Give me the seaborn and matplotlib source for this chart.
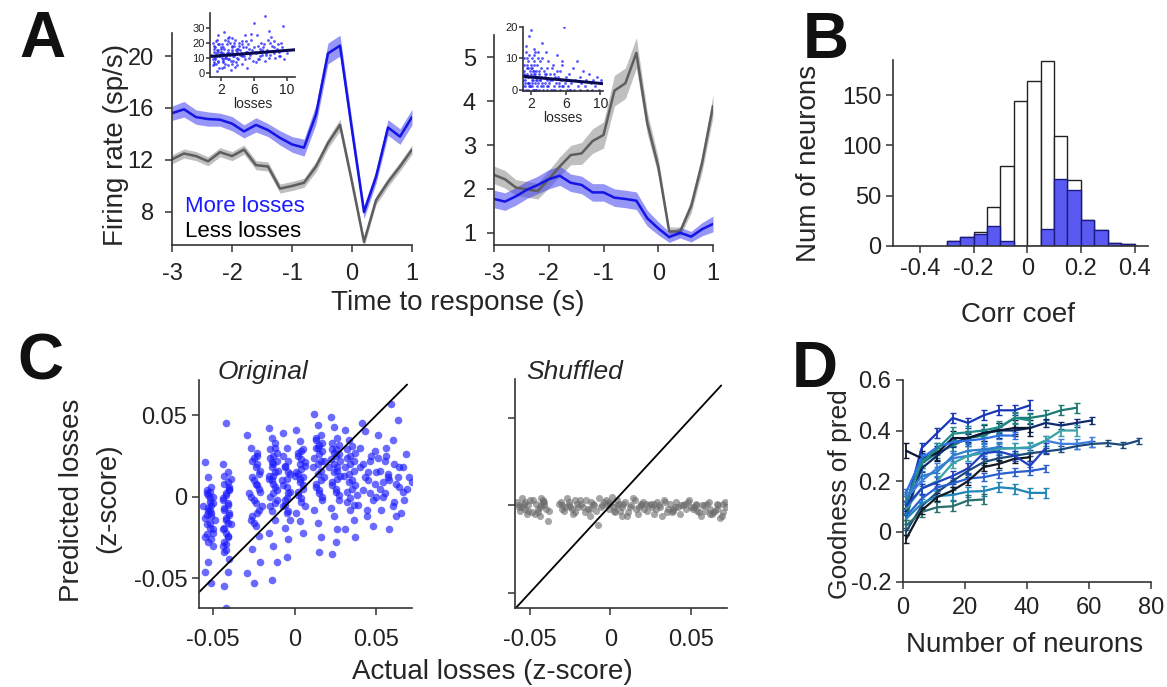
import numpy as np
import pandas as pd
import matplotlib
matplotlib.use("Agg")
import matplotlib.pyplot as plt
import seaborn as sns

# ---------------- A: firing rate aligned to response ----------------
time_s = [-3.0, -2.8, -2.6, -2.4, -2.2, -2.0, -1.8, -1.6, -1.4, -1.2, -1.0,
          -0.8, -0.6, -0.4, -0.2, 0.0, 0.2, 0.4, 0.6, 0.8, 1.0]

left_more = [15.6, 15.9, 15.3, 15.15, 15.1, 14.8, 14.2, 14.7, 14.3, 13.7, 13.2,
             12.95, 15.5, 20.2, 20.8, 14.3, 8.0, 10.7, 14.5, 13.8, 15.3]
left_more_sem = [0.55, 0.6, 0.55, 0.55, 0.5, 0.55, 0.5, 0.55, 0.5, 0.55, 0.6,
                 0.65, 0.75, 0.8, 0.8, 0.7, 0.5, 0.5, 0.6, 0.6, 0.6]
left_less = [12.05, 12.5, 12.3, 11.9, 12.6, 12.3, 12.8, 11.6, 11.5, 9.8, 10.0,
             10.25, 11.5, 13.3, 14.7, 10.3, 5.7, 8.9, 10.3, 11.5, 12.8]
left_less_sem = [0.35, 0.35, 0.35, 0.35, 0.35, 0.35, 0.35, 0.35, 0.35, 0.35, 0.35,
                 0.35, 0.4, 0.4, 0.45, 0.4, 0.35, 0.35, 0.35, 0.35, 0.35]

right_more = [1.77, 1.71, 1.83, 1.98, 2.09, 2.22, 2.30, 2.14, 2.09, 1.92, 1.92,
              1.80, 1.77, 1.73, 1.33, 1.10, 0.90, 1.00, 0.91, 1.08, 1.20]
right_more_sem = [0.2, 0.2, 0.2, 0.2, 0.2, 0.22, 0.22, 0.2, 0.2, 0.2, 0.2,
                  0.2, 0.2, 0.2, 0.18, 0.15, 0.12, 0.12, 0.12, 0.15, 0.18]
right_less = [2.32, 2.22, 2.03, 1.99, 1.95, 2.22, 2.51, 2.77, 2.81, 3.09, 3.23,
              4.24, 4.41, 5.10, 3.50, 2.51, 1.03, 1.03, 1.60, 2.59, 3.89]
right_less_sem = [0.2, 0.2, 0.18, 0.18, 0.18, 0.2, 0.22, 0.22, 0.25, 0.28, 0.3,
                  0.35, 0.35, 0.35, 0.25, 0.2, 0.1, 0.1, 0.15, 0.2, 0.25]

# insets: firing rate vs number of losses (single trials)
inset_l_x = [0.8, 1.0, 1.2, 1.3, 1.5, 1.6, 1.8, 1.9, 2.0, 2.2,
             1.0, 1.1, 1.4, 1.5, 1.7, 2.1, 2.3, 2.4, 2.6, 2.8,
             2.0, 2.5, 2.7, 2.9, 3.0, 3.2, 3.3, 3.5, 3.6, 3.8,
             3.1, 3.4, 3.7, 3.9, 4.0, 4.2, 4.4, 4.5, 4.7, 4.9,
             4.1, 4.3, 4.6, 4.8, 5.0, 5.2, 5.3, 5.5, 5.7, 5.9,
             5.1, 5.4, 5.6, 5.8, 6.0, 6.2, 6.3, 6.5, 6.7, 6.9,
             6.1, 6.4, 6.6, 6.8, 7.0, 7.2, 7.4, 7.5, 7.7, 7.9,
             7.1, 7.3, 7.6, 7.8, 8.0, 8.2, 8.4, 8.6, 8.8, 9.0,
             8.1, 8.5, 8.9, 9.2, 9.4, 9.6, 9.8, 10.0, 9.3, 9.7,
             1.1, 1.3, 1.6, 1.8, 2.1, 2.3, 2.5, 2.8, 3.0, 3.3,
             1.2, 1.4, 1.7, 1.9, 2.2, 2.4, 2.6, 2.9, 3.4, 3.6,
             1.5, 2.0, 2.7, 3.1, 3.5, 3.9, 4.2, 4.6, 5.0, 5.4,
             1.0, 1.2, 1.4, 1.6, 1.8, 2.0, 2.2, 2.4, 2.6, 2.8,
             3.0, 3.2, 3.4, 3.6, 3.8, 4.0, 4.3, 4.6, 4.9, 5.2,
             1.1, 1.3, 1.5, 1.7, 1.9, 2.1, 2.5, 2.9, 3.3, 3.7,
             4.1, 4.5, 5.5, 6.0, 6.5, 7.0, 7.5, 8.0, 8.5, 9.0]
inset_l_y = [12, 5, 18, 9, 22, 14, 3, 11, 16, 8,
             20, 7, 13, 1, 25, 10, 17, 4, 12, 21,
             14, 6, 19, 9, 24, 2, 15, 11, 18, 7,
             12, 23, 4, 16, 10, 20, 13, 6, 17, 25,
             9, 15, 21, 11, 14, 3, 19, 12, 26, 8,
             17, 10, 22, 15, 33, 13, 7, 18, 11, 20,
             14, 25, 9, 16, 12, 19, 38, 13, 22, 10,
             17, 8, 15, 28, 12, 18, 21, 10, 16, 14,
             24, 13, 19, 11, 17, 31, 15, 13, 20, 9,
             16, 10, 8, 19, 3, 13, 22, 15, 9, 18,
             6, 21, 15, 12, 9, 27, 11, 5, 14, 20,
             11, 17, 13, 20, 8, 14, 18, 12, 21, 16,
             9, 14, 6, 19, 11, 13, 7, 16, 10, 23,
             13, 8, 17, 11, 15, 5, 12, 19, 9, 14,
             11, 17, 15, 7, 12, 19, 10, 13, 6, 22,
             16, 11, 13, 17, 9, 15, 12, 20, 17, 11]
inset_l_fit = (10.5, 0.435)   # intercept, slope

inset_r_x = [1.1, 1.2, 1.3, 1.4, 1.5, 1.6, 1.7, 1.8, 1.9, 2.0,
             1.1, 1.3, 1.5, 1.7, 1.9, 2.1, 2.2, 2.3, 2.4, 2.5,
             2.0, 2.1, 2.2, 2.3, 2.4, 2.6, 2.7, 2.8, 2.9, 3.0,
             3.1, 3.2, 3.3, 3.4, 3.5, 3.6, 3.7, 3.8, 3.9, 4.0,
             2.6, 2.8, 3.0, 3.2, 3.4, 3.6, 3.8, 4.0, 4.1, 4.2,
             4.3, 4.4, 4.5, 4.6, 4.7, 4.8, 4.9, 5.0, 5.1, 5.2,
             5.3, 5.4, 5.5, 5.6, 5.7, 5.8, 5.9, 6.0, 6.1, 6.2,
             6.3, 6.4, 6.5, 6.6, 6.8, 7.0, 7.1, 7.3, 7.4, 7.6,
             7.7, 7.8, 8.0, 8.2, 8.3, 8.5, 8.7, 8.9, 9.0, 9.2,
             9.4, 9.6, 9.8, 10.0, 10.1, 1.4, 1.6, 1.8, 2.1, 2.5,
             1.2, 1.6, 2.0, 2.4, 2.8, 3.3, 3.7, 4.4, 5.0, 5.6,
             1.1, 1.2, 1.3, 1.4, 1.5, 1.6, 1.7, 1.8, 1.9, 2.0,
             2.1, 2.2, 2.3, 2.4, 2.5, 2.6, 2.7, 2.8, 2.9, 3.0,
             1.15, 1.35, 1.55, 1.75, 1.95, 2.15, 2.35, 2.55, 2.75, 2.95,
             3.3, 3.6, 3.9, 4.2, 4.5, 4.8, 5.2, 5.6, 6.0, 6.5]
inset_r_y = [3, 8, 1, 12, 5, 0, 9, 2, 6, 4,
             0, 2, 10, 4, 1, 7, 3, 11, 0, 5,
             19, 1, 6, 0, 13, 3, 8, 2, 5, 9,
             1, 4, 15, 0, 6, 2, 12, 3, 7, 1,
             0, 10, 3, 7, 1, 4, 0, 9, 2, 5,
             0, 3, 8, 1, 5, 0, 2, 11, 4, 1,
             6, 0, 3, 9, 1, 20, 2, 4, 0, 3,
             1, 5, 0, 2, 7, 0, 3, 9, 1, 4,
             0, 2, 6, 1, 3, 0, 5, 2, 0, 3,
             1, 4, 0, 2, 3, 14, 7, 17, 10, 12,
             5, 2, 8, 6, 12, 10, 5, 7, 6, 8,
             1, 6, 3, 0, 8, 2, 4, 11, 1, 7,
             3, 0, 5, 9, 2, 6, 1, 4, 0, 3,
             10, 4, 7, 1, 5, 2, 8, 0, 3, 6,
             2, 5, 1, 3, 0, 4, 2, 1, 3, 0]
inset_r_fit = (4.53, -0.255)

# ---------------- B: correlation coefficients ----------------
corr_edges = [-0.30, -0.25, -0.20, -0.15, -0.10, -0.05, 0.0, 0.05, 0.10,
              0.15, 0.20, 0.25, 0.30, 0.35, 0.40]
corr_all = [5, 9, 14, 39, 80, 144, 164, 184, 109, 66, 26, 16, 3, 2]
corr_sig = [5, 9, 12, 20, 5, 0, 0, 17, 67, 56, 26, 16, 3, 2]

# ---------------- C: decoded vs actual losses (x1000 z-score) ----------------
orig_x = [-55, -53, -51, -54, -50, -52, -56, -53, -51, -49, -54, -52, -50, -55, -53, -51, -52, -54, -50, -53, -55, -51,
          -54, -52, -50, -53, -51, -55, -52, -50, -54, -51, -53, -52,
          -42, -44, -41, -39, -43, -40, -42, -44, -41, -43, -40, -42, -39, -44, -41, -43, -42, -40, -41, -43, -42, -44,
          -43, -41, -40, -42, -44, -41, -43, -40, -42, -41, -43, -42, -41, -42, -43, -40,
          -29, -27, -25, -23, -21, -26, -24, -22, -28, -25, -20, -23, -27, -24, -22, -26, -21, -29, -25, -23,
          -26, -24, -22, -25, -23, -21, -27, -24, -22, -26, -25, -23,
          -16, -14, -12, -11, -15, -13, -10, -16, -14, -12, -13, -11, -15, -14, -12, -16, -13, -11, -14, -12,
          -15, -13, -11, -14, -12, -16, -13, -11, -15, -12, -14, -13,
          -7, -5, -4, -6, -3, -8, -5, -4, -6, -7, -5, -3, -6, -4, -5, -7,
          -6, -4, -5, -7, -3, -5, -6, -4,
          1, 3, 5, 2, 6, 4, 0, 3, 5, 2, 4, 6, 1, 3, 5, 4, 2,
          2, 4, 6, 1, 3, 5, 2, 4, 3, 5,
          12, 14, 16, 17, 13, 15, 18, 11, 14, 16, 13, 15, 17, 12, 14, 16, 15, 13,
          13, 15, 17, 12, 14, 16, 18, 13, 15, 17, 14, 16,
          22, 24, 26, 27, 23, 25, 28, 21, 24, 26, 23, 25, 27, 22, 24, 26, 25, 23,
          23, 25, 27, 22, 24, 26, 28, 23, 25, 27, 24, 26,
          31, 33, 35, 37, 32, 34, 36, 30, 33, 35, 38, 32, 34, 36, 31, 37,
          32, 34, 36, 31, 33, 35, 37, 32, 34, 36,
          40, 42, 45, 47, 50, 52, 55, 57, 60, 62, 64, 66, 68, 70, 72, 39,
          44, 48, 53, 58, 61, 65, 43, 46, 51, 56, 59, 63, 67, 41, 49, 54,
          40, 43, 46, 49, 52, 55, 58, 61, 64, 42, 45, 48, 51, 54, 57, 60, 63, 66, 69, 44, 50, 56, 62]
orig_y = [21, 12, 6, 2, 0, -3, -6, -9, -12, -14, -17, -19, -22, -25, -28, -5, 3, -11, -30, -40, -46, -53,
          4, -1, -4, -7, -10, -13, -16, -20, -23, -26, 1, -8,
          45, 20, 15, 11, 8, 4, 1, -2, -5, -8, -11, -14, -17, -20, -24, -28, -33, -38, -46, -55, -68, -30,
          13, 9, 5, 2, -1, -4, -7, -10, -13, -16, -19, -22, -25, -29, -34, 6,
          38, 30, 24, 20, 16, 12, 8, 5, 2, -2, -6, -10, -14, -18, -24, -32, -40, -47, -53, 27,
          22, 18, 14, 10, 7, 3, 0, -4, -8, -12, -16, 25,
          42, 36, 30, 27, 24, 20, 16, 13, 10, 6, 2, -2, -6, -9, -14, -22, -30, -40, -51, 33,
          29, 25, 22, 18, 15, 11, 8, 4, 0, -4, 21, 13,
          39, 30, 22, 18, 14, 10, 6, 2, -2, -6, -10, -14, -19, -26, -37, 25,
          19, 15, 11, 7, 3, -1, -5, -9,
          41, 34, 29, 25, 21, 17, 13, 9, 5, 1, -3, -6, -10, -15, -22, 28, 14,
          27, 23, 19, 15, 11, 7, 3, -1, 20, 12,
          51, 44, 38, 33, 30, 26, 22, 18, 14, 10, 6, 2, -2, -8, -16, -25, -34, 35,
          36, 32, 28, 24, 20, 16, 12, 8, 4, 0, 30, 22,
          49, 43, 36, 32, 29, 25, 22, 18, 15, 11, 7, 3, -2, -7, -12, -20, -28, -35,
          33, 29, 26, 23, 20, 16, 13, 9, 5, 1, 27, 18,
          41, 35, 31, 27, 24, 20, 16, 13, 9, 5, 1, -3, -8, -14, -20, -25,
          29, 25, 22, 18, 14, 10, 7, 3, -1, -5,
          30, 20, 10, 25, 15, 5, 22, 12, 35, 8, 18, 3, 26, 12, 9, -5,
          -12, -18, -8, -20, -3, -10, 40, 2, 38, 30, 57, 47, -2, 45, 28, 0,
          18, 12, 22, 8, 16, 2, 10, 20, 6, 4, 15, -2, 24, 9, 14, -6, 12, 18, 5, -8, 0, 25, -12]

shuf_x = [-58, -56, -54, -52, -50, -57, -55, -53, -51, -49,
          -46, -44, -42, -40, -45, -43, -41, -39, -44, -42,
          -31, -29, -27, -25, -23, -21, -19, -30, -26, -22,
          -17, -15, -13, -11, -9, -7, -16, -12, -8, -5,
          -3, -1, 1, 3, 5, 7, -2, 2, 4, 6,
          9, 11, 13, 15, 17, 19, 21, 10, 14, 18,
          23, 25, 27, 29, 31, 33, 35, 24, 28, 32,
          37, 39, 41, 43, 45, 47, 49, 38, 42, 46,
          51, 53, 55, 57, 59, 61, 63, 52, 56, 60,
          65, 67, 69, 71, 72, 64, 66, 68, 70, 62,
          -57, -55, -53, -51, -45, -43, -41, -30, -28, -26,
          -24, -22, -20, -18, -14, -10, -6, -4, 0, 2,
          4, 8, 12, 16, 20, 22, 26, 30, 34, 36,
          40, 44, 48, 50, 54, 58, 62, 66, 70, -48,
          -47, -38, -32, -13, -1, 7, 19, 27, 39, 53]
shuf_y = [2, -3, 1, -5, 3, -1, 4, -2, 0, -4,
          1, -6, 3, -2, -4, 4, 0, -9, -1, 2,
          2, -3, 4, -1, -5, 1, 3, -2, 0, -4,
          -1, 3, -6, 1, -3, 4, -4, 2, -11, 0,
          3, -2, 5, -4, 1, -6, 0, -1, 3, -3,
          2, -4, 0, 3, -5, 1, -2, -6, 4, -1,
          -3, 1, -5, 2, -1, 3, -4, 0, -2, -6,
          1, -3, 2, -5, 0, -2, 3, -4, -1, 1,
          -2, 1, -4, 0, -3, 2, -5, -1, -6, 1,
          -3, 0, -6, 2, -1, -4, -2, -7, 1, -5,
          0, -1, 2, -3, -2, 0, 2, 0, -1, 2,
          -2, 3, -1, 1, -2, 0, -1, 2, 1, -3,
          0, 1, -1, -2, 2, 1, -1, 0, 2, -2,
          -1, 0, 2, -1, -3, 0, -2, 1, -4, 3,
          -5, -3, 1, -2, 2, -1, 0, 1, -2, 0]
diag_range = [-0.0586, 0.0688]

# ---------------- D: decoding vs ensemble size ----------------
n_neurons = [1, 6, 11, 16, 21, 26, 31, 36, 41, 46, 51, 56, 61, 66, 71, 76]
d_curves = [
    [0.10, 0.33, 0.39, 0.45, 0.43, 0.46, 0.48, 0.48, 0.50],
    [0.05, 0.27, 0.31, 0.34, 0.37, 0.38, 0.41, 0.45, 0.45, 0.46, 0.48, 0.49],
    [0.08, 0.25, 0.30, 0.35, 0.37, 0.39, 0.40, 0.40, 0.41, 0.43, 0.42, 0.43, 0.44],
    [0.00, 0.10, 0.155, 0.20, 0.24, 0.275, 0.29, 0.30, 0.31, 0.317, 0.325, 0.338, 0.347, 0.35, 0.343, 0.36],
    [0.13, 0.20, 0.25, 0.29, 0.30, 0.32, 0.33, 0.33, 0.33, 0.36, 0.347, 0.347, 0.356],
    [0.09, 0.17, 0.20, 0.27, 0.30, 0.31, 0.327, 0.33, 0.334, 0.36, 0.40, 0.40],
    [0.06, 0.13, 0.175, 0.19, 0.21, 0.215, 0.228, 0.235, 0.24, 0.25],
    [0.05, 0.11, 0.14, 0.145, 0.158, 0.16, 0.175, 0.17, 0.153, 0.153],
    [0.024, 0.077, 0.096, 0.10, 0.123, 0.127],
    [0.32, 0.29, 0.31, 0.37, 0.37, 0.39, 0.40, 0.41, 0.41],
    [-0.03, 0.083, 0.136, 0.162, 0.20, 0.255, 0.268, 0.288, 0.294],
    [0.10, 0.17, 0.195, 0.22, 0.25, 0.31, 0.317, 0.30, 0.26, 0.33],
    [0.155, 0.29, 0.334, 0.354, 0.36, 0.367, 0.38, 0.38],
    [0.116, 0.275, 0.327, 0.387, 0.393, 0.40, 0.413, 0.45, 0.44],
    [0.136, 0.22, 0.235, 0.30, 0.32, 0.325, 0.334],
]
d_err = [0.02, 0.02, 0.015, 0.012, 0.02, 0.02, 0.015, 0.02, 0.02, 0.03,
         0.015, 0.02, 0.015, 0.025, 0.02]
d_colors = ['#1836b8', '#1b7a73', '#0f2a6e', '#1b4a7a', '#3d7ee0', '#3aa3a8',
            '#2a5fd0', '#1e86b8', '#2a6f70', '#0b1630', '#141a24', '#2040c0',
            '#2b6fe8', '#208a8a', '#2f7fc8']

# ---------------- styling ----------------
sns.set_style("ticks")
plt.rcParams['font.family'] = ['Liberation Sans', 'DejaVu Sans']
plt.rcParams['axes.unicode_minus'] = False
plt.rcParams['axes.edgecolor'] = '#333333'
plt.rcParams['axes.linewidth'] = 1.2
plt.rcParams['xtick.color'] = '#333333'
plt.rcParams['ytick.color'] = '#333333'
plt.rcParams['xtick.labelcolor'] = '#222222'
plt.rcParams['ytick.labelcolor'] = '#222222'
plt.rcParams['xtick.major.size'] = 5
plt.rcParams['ytick.major.size'] = 5
plt.rcParams['xtick.major.width'] = 1.1
plt.rcParams['ytick.major.width'] = 1.1

TICK = 17
LAB = 20
BLUE = '#1414e6'
BAND_BLUE = '#4040f0'
GRAY = '#5e5e5e'

W, H = 1167, 687
fig = plt.figure(figsize=(W / 100, H / 100), dpi=100)


def px_axes(x0, y0, x1, y1):
    """axes from pixel box (left, top, right, bottom)"""
    return fig.add_axes([x0 / W, 1 - y1 / H, (x1 - x0) / W, (y1 - y0) / H])


def ftext(x, y, s, **kw):
    kw.setdefault('ha', 'center')
    kw.setdefault('va', 'center')
    fig.text(x / W, 1 - y / H, s, **kw)


def trace(ax, mean, sem, line_color, band_color, band_alpha):
    lo = [m - s for m, s in zip(mean, sem)]
    hi = [m + s for m, s in zip(mean, sem)]
    ax.fill_between(time_s, lo, hi, color=band_color, alpha=band_alpha, lw=0)
    sns.lineplot(x=time_s, y=mean, ax=ax, color=line_color, lw=1.8)


def style_time_axis(ax):
    ax.set_xlim(-3, 1)
    ax.set_xticks([-3, -2, -1, 0, 1])
    ax.set_xticklabels(['-3', '-2', '-1', '0', '1'])
    ax.tick_params(labelsize=TICK)
    ax.tick_params(axis='x', pad=8)
    ax.tick_params(axis='y', pad=8)
    sns.despine(ax=ax)


# --- A left
axA1 = px_axes(172, 33, 412, 245)
trace(axA1, left_less, left_less_sem, GRAY, '#8c8c8c', 0.55)
trace(axA1, left_more, left_more_sem, BLUE, BAND_BLUE, 0.55)
axA1.set_ylim(5.46, 21.77)
axA1.set_yticks([8, 12, 16, 20])
style_time_axis(axA1)
ftext(185, 212, 'More losses', color='#1a1aff', fontsize=16,
      ha='left', va='baseline')
ftext(185, 237, 'Less losses', color='black', fontsize=16,
      ha='left', va='baseline')

# --- A right
axA2 = px_axes(494, 35, 713, 245)
trace(axA2, right_less, right_less_sem, GRAY, '#8c8c8c', 0.55)
trace(axA2, right_more, right_more_sem, BLUE, BAND_BLUE, 0.55)
axA2.set_ylim(0.72, 5.51)
axA2.set_yticks([1, 2, 3, 4, 5])
style_time_axis(axA2)


def inset(box, xs, ys, fit, xlim, ylim, yticks):
    ax = px_axes(*box)
    sns.scatterplot(x=xs, y=ys, ax=ax, color='#2a2aff', s=4, linewidth=0,
                    alpha=0.8)
    ax.axline((0, fit[0]), slope=fit[1], color='#0a0a50', lw=2.2)
    ax.set_xlim(*xlim)
    ax.set_ylim(*ylim)
    ax.set_xticks([2, 6, 10])
    ax.set_yticks(yticks)
    ax.tick_params(axis='x', labelsize=10, length=3, pad=1)
    ax.tick_params(axis='y', labelsize=8, length=3, pad=1)
    ax.set_xlabel('losses', fontsize=10, labelpad=0)
    ax.patch.set_alpha(0)
    sns.despine(ax=ax)
    return ax


inset((210, 13, 295, 77), inset_l_x, inset_l_y, inset_l_fit,
      (0.67, 11), (-3, 40), [0, 10, 20, 30])
inset((523, 27, 603, 91), inset_r_x, inset_r_y, inset_r_fit,
      (1.08, 10.3), (-0.45, 20), [0, 10, 20])

# --- B histogram
axB = px_axes(893, 60, 1148, 246)
corr_mid = [(a + b) / 2 for a, b in zip(corr_edges[:-1], corr_edges[1:])]
sns.histplot(x=corr_mid, weights=corr_all, bins=corr_edges, ax=axB,
             color='white', edgecolor='#222222', linewidth=1.0, alpha=1)
sns.histplot(x=corr_mid, weights=corr_sig, bins=corr_edges, ax=axB,
             color='#5a5af2', edgecolor='#1a1a80', linewidth=1.0, alpha=1)
axB.set_xlim(-0.5, 0.45)
axB.set_ylim(0, 185)
axB.set_xticks([-0.4, -0.2, 0, 0.2, 0.4])
axB.set_xticklabels(['-0.4', '-0.2', '0', '0.2', '0.4'])
axB.set_yticks([0, 50, 100, 150])
axB.set_ylabel('')
axB.tick_params(labelsize=TICK)
sns.despine(ax=axB)

# --- C scatter
cticks = [-0.05, 0, 0.05]
clabels = ['-0.05', '0', '0.05']
axC1 = px_axes(199, 380, 412, 608)
sns.scatterplot(x=[v / 1000 for v in orig_x], y=[v / 1000 for v in orig_y],
                ax=axC1, color='#1a1aff', s=30, linewidth=0, alpha=0.65)
axC1.plot(diag_range, diag_range, color='black', lw=1.3)
axC1.set_xlim(-0.0586, 0.0718)
axC1.set_ylim(-0.0683, 0.0716)
axC1.set_xticks(cticks)
axC1.set_xticklabels(clabels)
axC1.set_yticks(cticks)
axC1.set_yticklabels(clabels)
axC1.tick_params(labelsize=TICK)
axC1.tick_params(axis='x', pad=10)
sns.despine(ax=axC1)

axC2 = px_axes(515, 379, 727, 608)
sns.scatterplot(x=[v / 1000 for v in shuf_x], y=[v / 1000 for v in shuf_y],
                ax=axC2, color='#6a6a6a', s=26, linewidth=0, alpha=0.6)
axC2.plot(diag_range, diag_range, color='black', lw=1.3)
axC2.set_xlim(-0.0593, 0.0724)
axC2.set_ylim(-0.0588, 0.0725)
axC2.set_xticks(cticks)
axC2.set_xticklabels(clabels)
axC2.set_yticks(cticks)
axC2.set_yticklabels([])
axC2.tick_params(labelsize=TICK)
axC2.tick_params(axis='x', pad=10)
sns.despine(ax=axC2)

# --- D decoding curves
axD = px_axes(903, 380, 1151, 582)
for vals, err, col in zip(d_curves, d_err, d_colors):
    xs = n_neurons[:len(vals)]
    axD.errorbar(xs, vals, yerr=err, color=col, lw=1.6, elinewidth=1.3,
                 capsize=2.5, capthick=1.0)
axD.set_xlim(0, 80)
axD.set_ylim(-0.2, 0.6)
axD.set_xticks([0, 20, 40, 60, 80])
axD.set_yticks([-0.2, 0, 0.2, 0.4, 0.6])
axD.set_yticklabels(['-0.2', '0', '0.2', '0.4', '0.6'])
axD.tick_params(labelsize=TICK)
axD.tick_params(axis='x', pad=6)
sns.despine(ax=axD)

# --- labels
ftext(116, 145, 'Firing rate (sp/s)', fontsize=LAB, rotation=90)
ftext(458, 303, 'Time to response (s)', fontsize=LAB)
ftext(809, 163, 'Num of neurons', fontsize=LAB, rotation=90)
ftext(1018, 315, 'Corr coef', fontsize=LAB)
ftext(72, 500, 'Predicted losses', fontsize=LAB, rotation=90)
ftext(108, 498, '(z-score)', fontsize=LAB, rotation=90)
ftext(352, 672, 'Actual losses (z-score)', fontsize=LAB, ha='left')
ftext(263, 372, 'Original', fontsize=19, style='italic')
ftext(575, 372, 'Shuffled', fontsize=19, style='italic')
ftext(840, 494, 'Goodness of pred', fontsize=19, rotation=90)
ftext(1025, 645, 'Number of neurons', fontsize=LAB)

for letter, x, y in [('A', 42, 40), ('B', 826, 41), ('C', 40, 362), ('D', 815, 370)]:
    ftext(x, y, letter, fontsize=46, fontweight='bold', color='#111111')

fig.savefig('out.png', dpi=100)
